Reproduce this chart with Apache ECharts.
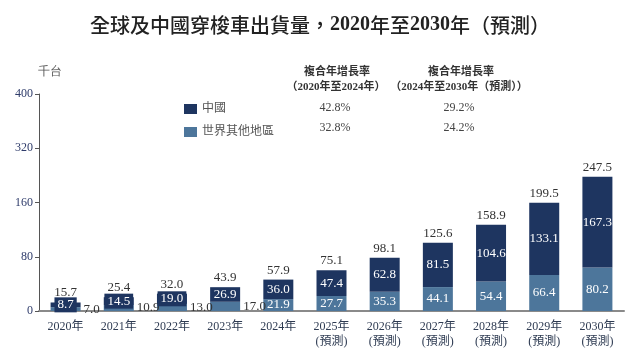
<!DOCTYPE html>
<html><head><meta charset="utf-8">
<script src="https://cdn.jsdelivr.net/npm/echarts@6/dist/echarts.min.js"></script>
<style>html,body{margin:0;padding:0;background:#fff}#c{width:640px;height:357px}</style>
</head><body><div id="c"></div>
<script>
const categories = ['2020年','2021年','2022年','2023年','2024年','2025年\n(預測)','2026年\n(預測)','2027年\n(預測)','2028年\n(預測)','2029年\n(預測)','2030年\n(預測)'];
const china = [8.7,14.5,19.0,26.9,36.0,47.4,62.8,81.5,104.6,133.1,167.3];
const restOfWorld = [7.0,10.9,13.0,17.0,21.9,27.7,35.3,44.1,54.4,66.4,80.2];
const totals = [15.7,25.4,32.0,43.9,57.9,75.1,98.1,125.6,158.9,199.5,247.5];
const yTickLabels = ['0','80','160','320','400'];
const seriesNames = ['中國','世界其他地區'];
const cagrHeaders = [['複合年增長率','（2020年至2024年）'],['複合年增長率','（2024年至2030年（預測））']];
const cagrChina = ['42.8%','29.2%'];
const cagrRow = ['32.8%','24.2%'];

const NAVY = '#1e3560', STEEL = '#4d769b';
const SERIF = '"Liberation Serif","Noto Sans CJK TC",serif';
const chart = echarts.init(document.getElementById('c'), null, {renderer:'canvas'});
const fmt = p => (+p.value).toFixed(1);

const rowData = restOfWorld.map(v => v < 20 ? {value:v, label:{position:'right', color:'#333', distance:3}} : v);
const chinaData = china.map(v => v < 20 ? {value:v, label:{backgroundColor:NAVY, padding:[1,3]}} : v);

const txt = (x, y, text, opt) => Object.assign({type:'text', x, y, style:Object.assign({text, fill:'#333', font:'12px '+SERIF, textAlign:'center', textVerticalAlign:'middle'}, opt||{})});

chart.setOption({
  animation:false,
  title:{text:'{a|全球及中國穿梭車出貨量，}{b|2020}{a|年至}{b|2030}{a|年（預測）}', left:'center', top:10,
    textStyle:{rich:{
      a:{fontFamily:'"Noto Sans CJK TC",sans-serif', fontSize:20, fontWeight:500, color:'#222'},
      b:{fontFamily:'"Liberation Serif",serif', fontSize:20, fontWeight:'bold', color:'#222'}}}},
  legend:{orient:'vertical', left:184, top:103, itemWidth:13, itemHeight:10, itemGap:11, padding:0,
    icon:'rect', data:seriesNames, textStyle:{fontFamily:SERIF, fontSize:12, color:'#555'}},
  grid:{left:39, right:16, top:94, bottom:46},
  xAxis:{type:'category', data:categories,
    axisLine:{lineStyle:{color:'#8a8a8a', width:2}}, axisTick:{show:false},
    axisLabel:{fontFamily:SERIF, fontSize:12, color:'#2e3b52', margin:8, lineHeight:15}},
  yAxis:{type:'value', min:0, max:400, interval:100,
    axisLine:{show:true, lineStyle:{color:'#555', width:1}},
    axisTick:{show:true, length:4, lineStyle:{color:'#555'}},
    splitLine:{show:false},
    axisLabel:{fontFamily:SERIF, fontSize:12, color:'#2e3b6a', margin:6,
      formatter:(v)=>yTickLabels[Math.round(v/100)]}},
  graphic:[
    txt(50,72,'千台',{fill:'#555', fontSize:12}),
    txt(337,72,cagrHeaders[0][0],{font:'bold 11px '+SERIF}),
    txt(336,87,cagrHeaders[0][1],{font:'bold 11px '+SERIF}),
    txt(461,72,cagrHeaders[1][0],{font:'bold 11px '+SERIF}),
    txt(459,87,cagrHeaders[1][1],{font:'bold 11px '+SERIF}),
    txt(335,108,cagrChina[0],{fill:'#444'}),
    txt(459,108,cagrChina[1],{fill:'#444'}),
    txt(335,128,cagrRow[0],{fill:'#444'}),
    txt(459,128,cagrRow[1],{fill:'#444'})
  ],
  series:[
    {name:'世界其他地區', type:'bar', stack:'s', barWidth:30, data:rowData,
      itemStyle:{color:STEEL},
      label:{show:true, position:'inside', color:'#fff', fontFamily:SERIF, fontSize:13, formatter:fmt}},
    {name:'中國', type:'bar', stack:'s', barWidth:30, data:chinaData,
      itemStyle:{color:NAVY},
      label:{show:true, position:'inside', color:'#fff', fontFamily:SERIF, fontSize:13, formatter:fmt}},
    {name:'total', type:'bar', barWidth:30, barGap:'-100%', data:totals, z:1, silent:true,
      itemStyle:{color:'rgba(0,0,0,0)'},
      label:{show:true, position:'top', distance:3, color:'#333', fontFamily:SERIF, fontSize:13, formatter:fmt}}
  ]
});
</script></body></html>
